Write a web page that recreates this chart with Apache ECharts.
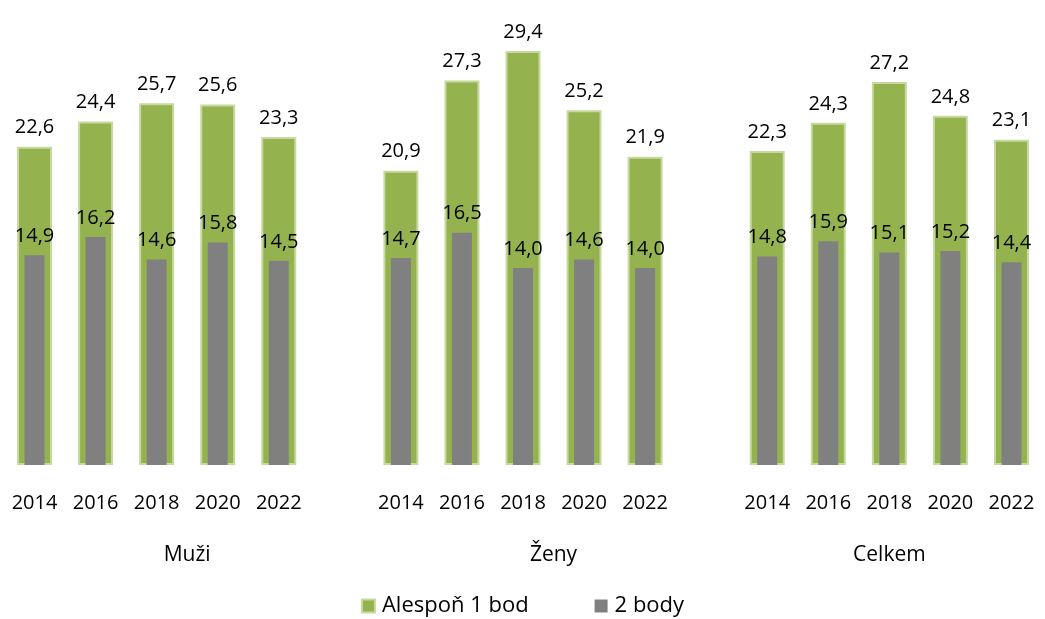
<!DOCTYPE html>
<html>
<head>
<meta charset="utf-8">
<script src="https://cdn.jsdelivr.net/npm/echarts@6/dist/echarts.min.js"></script>
<style>
  html, body { margin: 0; padding: 0; background: #fff; }
  #chart { width: 1045px; height: 619px; }
</style>
</head>
<body>
<div id="chart"></div>
<script>
// roky, prázdné sloty oddělují skupiny
const categories = ['2014', '2016', '2018', '2020', '2022', '',
                    '2014', '2016', '2018', '2020', '2022', '',
                    '2014', '2016', '2018', '2020', '2022']
const groups = ['Muži', 'Ženy', 'Celkem']
const alesponValues = [22.6, 24.4, 25.7, 25.6, 23.3, null,
                       20.9, 27.3, 29.4, 25.2, 21.9, null,
                       22.3, 24.3, 27.2, 24.8, 23.1]
const dvaBodyValues = [14.9, 16.2, 14.6, 15.8, 14.5, null,
                       14.7, 16.5, 14.0, 14.6, 14.0, null,
                       14.8, 15.9, 15.1, 15.2, 14.4]

// osa pro popisky skupin: půlkrokové body, skupina uprostřed svého rozsahu
const groupSlots = { 6: groups[0], 18: groups[1], 29: groups[2] }
const groupAxisData = Array.from({ length: categories.length * 2 + 1 }, (_, i) => groupSlots[i] || '')

const font = '"Open Sans", "Noto Sans", sans-serif'
const fmt = p => p.value == null ? '' : p.value.toFixed(1).replace('.', ',')

const chart = echarts.init(document.getElementById('chart'))
chart.setOption({
  animation: false,
  textStyle: { fontFamily: font },
  grid: { left: 4, right: -5, top: 42.6, bottom: 154 },
  legend: {
    bottom: -3,
    left: 'center',
    itemWidth: 13,
    itemHeight: 13,
    itemGap: 66,
    icon: 'rect',
    textStyle: { fontSize: 22, color: '#000', fontFamily: font, padding: [0, 0, 0, 2] },
    data: ['Alespoň 1 bod', '2 body']
  },
  xAxis: [
    {
      type: 'category',
      data: categories,
      axisLine: { show: false },
      axisTick: { show: false },
      axisLabel: { fontSize: 20, color: '#000', margin: 28, interval: 0 }
    },
    {
      type: 'category',
      data: categories,
      show: false
    },
    {
      type: 'category',
      data: groupAxisData,
      boundaryGap: false,
      position: 'bottom',
      offset: 58,
      axisLine: { show: false },
      axisTick: { show: false },
      axisLabel: { fontSize: 21, color: '#000', interval: 0, margin: 22 }
    }
  ],
  yAxis: {
    type: 'value',
    min: 0,
    max: 30,
    show: false,
    splitLine: { show: false }
  },
  series: [
    {
      name: 'Alespoň 1 bod',
      type: 'bar',
      xAxisIndex: 0,
      data: alesponValues,
      barWidth: 35,
      itemStyle: { color: '#94B34F', borderColor: '#C6DAA0', borderWidth: 2 },
      label: { show: true, position: 'top', distance: 9, fontSize: 20, color: '#000', formatter: fmt }
    },
    {
      name: '2 body',
      type: 'bar',
      xAxisIndex: 1,
      data: dvaBodyValues,
      barWidth: 20,
      itemStyle: { color: '#808080' },
      label: { show: true, position: 'top', distance: 9, fontSize: 20, color: '#000', formatter: fmt }
    }
  ]
})
</script>
</body>
</html>
